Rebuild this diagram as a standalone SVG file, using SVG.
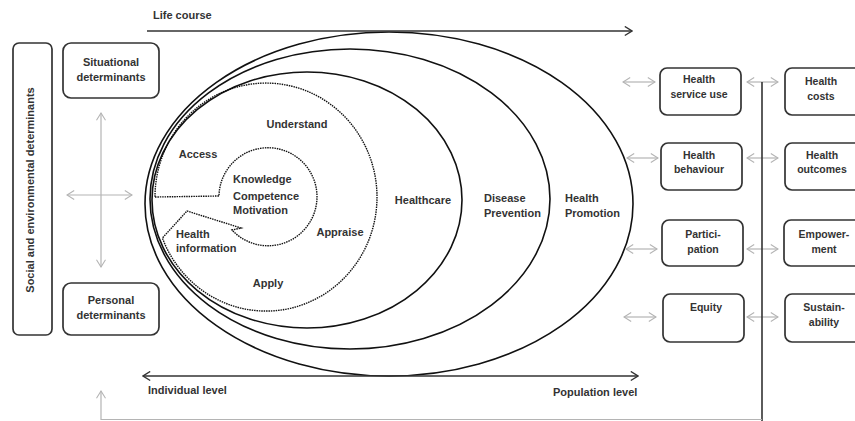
<svg xmlns="http://www.w3.org/2000/svg" width="855" height="421" viewBox="0 0 855 421">
  <style>
    .t { font-family: "Liberation Sans", Arial, sans-serif; font-size: 11px; font-weight: bold; fill: #333; }
    .m { text-anchor: middle; }
    .sm { font-size: 10.5px; }
    .box { fill: #fff; stroke: #333; stroke-width: 1.7; }
    .ring { fill: none; stroke: #111; stroke-width: 1.6; }
    .dot { fill: none; stroke: #111; stroke-width: 1.4; stroke-dasharray: 1.5 0.9; }
    .gray { fill: none; stroke: #b4b4b4; stroke-width: 1.2; }
    .dark { fill: none; stroke: #333; stroke-width: 1.6; }
  </style>
  <defs>
    <marker id="hg" viewBox="0 0 10 12" refX="9" refY="6" markerWidth="9" markerHeight="11" markerUnits="userSpaceOnUse" orient="auto-start-reverse">
      <path d="M1,1 L9,6 L1,11" fill="none" stroke="#b4b4b4" stroke-width="1.2"/>
    </marker>
    <marker id="hd" viewBox="0 0 10 12" refX="9" refY="6" markerWidth="9" markerHeight="11" markerUnits="userSpaceOnUse" orient="auto-start-reverse">
      <path d="M1,1 L9,6 L1,11" fill="none" stroke="#333" stroke-width="1.6"/>
    </marker>
  </defs>
  <rect width="855" height="421" fill="#fff"/>

  <!-- nested domains -->
  <g id="health-promotion">
    <ellipse class="ring" cx="389" cy="204" rx="244" ry="172" stroke-width="2.4"/>
    <text class="t" x="565" y="202">Health</text>
    <text class="t" x="565" y="217">Promotion</text>
  </g>
  <g id="disease-prevention">
    <ellipse class="ring" cx="350" cy="199" rx="200" ry="150"/>
    <text class="t" x="484" y="202">Disease</text>
    <text class="t" x="484" y="217">Prevention</text>
  </g>
  <g id="healthcare">
    <ellipse class="ring" cx="307" cy="200" rx="155" ry="128"/>
    <text class="t m" x="423" y="204">Healthcare</text>
  </g>
  <g id="health-literacy">
    <path class="dot" d="M155,197 L219,196 A49,49 0 1 1 232,230 L241,228 L187,211 L162.4,238 A111,114 0 1 0 155,197 Z"/>
    <text class="t m" x="297" y="128">Understand</text>
    <text class="t m" x="198" y="158">Access</text>
    <text class="t" x="233" y="183">Knowledge</text>
    <text class="t" x="233" y="200">Competence</text>
    <text class="t" x="233" y="214">Motivation</text>
    <text class="t m" x="340" y="236">Appraise</text>
    <text class="t" x="176" y="238">Health</text>
    <text class="t" x="176" y="252">information</text>
    <text class="t m" x="268" y="287">Apply</text>
  </g>

  <!-- determinants on the left -->
  <g id="social-environmental">
    <rect class="box" x="13" y="43" width="39" height="292" rx="6"/>
    <text class="t m" transform="translate(34,190) rotate(-90)" font-size="11.5">Social and environmental determinants</text>
  </g>
  <g id="situational">
    <rect class="box" x="63" y="43" width="96" height="55" rx="8"/>
    <text class="t m" x="111" y="66">Situational</text>
    <text class="t m" x="111" y="81">determinants</text>
  </g>
  <g id="personal">
    <rect class="box" x="63" y="283" width="96" height="52" rx="8"/>
    <text class="t m" x="111" y="304">Personal</text>
    <text class="t m" x="111" y="319">determinants</text>
  </g>

  <!-- outcomes on the right -->
  <g id="health-service-use">
    <rect class="box" x="660" y="68" width="81" height="47" rx="7"/>
    <text class="t sm m" x="699" y="83">Health</text>
    <text class="t sm m" x="699" y="98">service use</text>
  </g>
  <g id="health-behaviour">
    <rect class="box" x="661" y="143" width="81" height="47" rx="7"/>
    <text class="t sm m" x="699" y="159">Health</text>
    <text class="t sm m" x="699" y="173">behaviour</text>
  </g>
  <g id="participation">
    <rect class="box" x="662" y="220" width="81" height="46" rx="7"/>
    <text class="t sm m" x="703" y="238">Partici-</text>
    <text class="t sm m" x="703" y="253">pation</text>
  </g>
  <g id="equity">
    <rect class="box" x="663" y="294" width="81" height="48" rx="7"/>
    <text class="t sm m" x="706" y="311">Equity</text>
  </g>
  <g id="health-costs">
    <rect class="box" x="785" y="68" width="80" height="47" rx="7"/>
    <text class="t sm m" x="821" y="85">Health</text>
    <text class="t sm m" x="821" y="100">costs</text>
  </g>
  <g id="health-outcomes">
    <rect class="box" x="785" y="143" width="80" height="47" rx="7"/>
    <text class="t sm m" x="822" y="159">Health</text>
    <text class="t sm m" x="822" y="173">outcomes</text>
  </g>
  <g id="empowerment">
    <rect class="box" x="784" y="220" width="80" height="46" rx="7"/>
    <text class="t sm m" x="824" y="238">Empower-</text>
    <text class="t sm m" x="824" y="253">ment</text>
  </g>
  <g id="sustainability">
    <rect class="box" x="785" y="294" width="80" height="48" rx="7"/>
    <text class="t sm m" x="824" y="311">Sustain-</text>
    <text class="t sm m" x="824" y="326">ability</text>
  </g>

  <!-- axes and connectors -->
  <g id="connectors">
    <line class="dark" x1="147" y1="31" x2="632" y2="31" marker-end="url(#hd)"/>
    <line class="dark" x1="143" y1="376" x2="638" y2="376" marker-start="url(#hd)" marker-end="url(#hd)"/>
    <line class="gray" x1="101" y1="113" x2="101" y2="267" marker-start="url(#hg)" marker-end="url(#hg)"/>
    <line class="gray" x1="67" y1="195" x2="132" y2="195" marker-start="url(#hg)" marker-end="url(#hg)"/>
    <line class="gray" x1="623" y1="82" x2="655" y2="82" marker-start="url(#hg)" marker-end="url(#hg)"/>
    <line class="gray" x1="627" y1="158" x2="658" y2="158" marker-start="url(#hg)" marker-end="url(#hg)"/>
    <line class="gray" x1="626" y1="249" x2="657" y2="249" marker-start="url(#hg)" marker-end="url(#hg)"/>
    <line class="gray" x1="624" y1="317" x2="656" y2="317" marker-start="url(#hg)" marker-end="url(#hg)"/>
    <line class="gray" x1="747" y1="82" x2="778" y2="82" marker-start="url(#hg)" marker-end="url(#hg)"/>
    <line class="gray" x1="747" y1="158" x2="778" y2="158" marker-start="url(#hg)" marker-end="url(#hg)"/>
    <line class="gray" x1="747" y1="249" x2="778" y2="249" marker-start="url(#hg)" marker-end="url(#hg)"/>
    <line class="gray" x1="747" y1="317" x2="778" y2="317" marker-start="url(#hg)" marker-end="url(#hg)"/>
    <line class="dark" x1="762" y1="82" x2="762" y2="421" stroke="#111"/>
    <polyline class="gray" points="762,419.5 101,419.5 101,391" marker-end="url(#hg)"/>
  </g>

  <!-- axis labels -->
  <g id="axis-labels">
    <text class="t" x="153" y="19">Life course</text>
    <text class="t" x="148" y="394">Individual level</text>
    <text class="t" x="553" y="396">Population level</text>
  </g>
</svg>
